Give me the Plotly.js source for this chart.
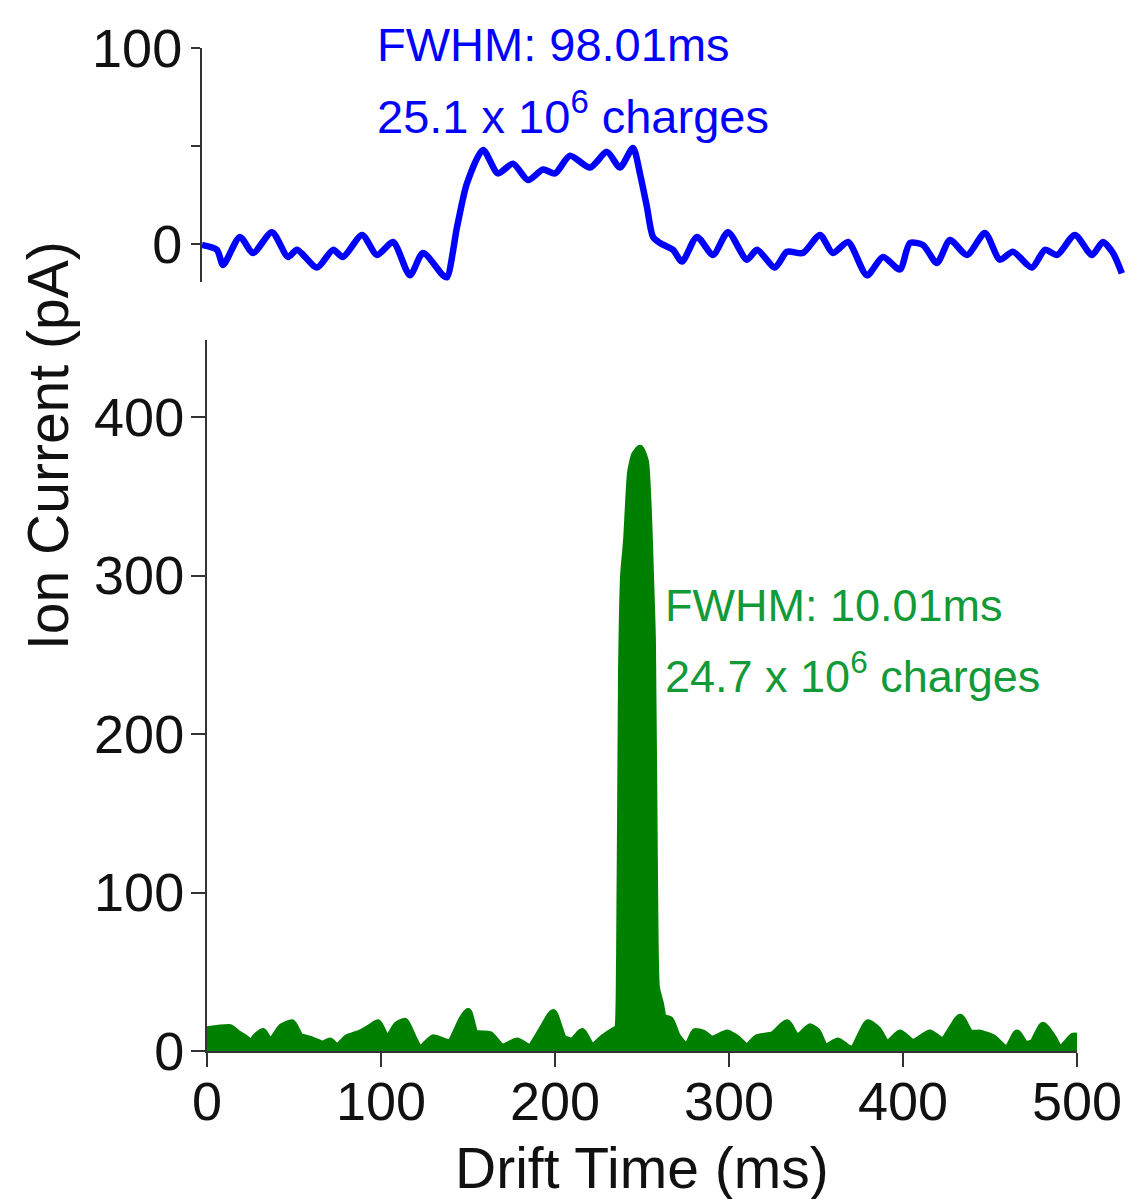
<!DOCTYPE html>
<html>
<head>
<meta charset="utf-8">
<script src="https://cdn.plot.ly/plotly-3.0.1.min.js"></script>
<style>html,body{margin:0;padding:0;background:#fff;}#chart{width:1132px;height:1199px;}</style>
</head>
<body>
<div id="chart"></div>
<script>
// Upper trace (blue): drift time (ms) and ion current (pA)
const blueTime = [0, 8.6, 12.1, 21.8, 29.3, 40.2, 49.4, 54.6, 66.1, 75.3, 81, 92, 100.6, 109.8, 119.5, 127, 138.5, 140.8,
  146.6, 152.3, 161.5, 170.1, 178.7, 187.4, 196, 202.9, 211.5, 223, 232.8, 240.2, 247.7, 251.7, 255.7, 259.2, 263.2,
  270.7, 275.9, 284.5, 293.7, 302.3, 313.2, 319, 329.3, 336.2, 345.4, 355.2, 362.6, 371.3, 382.2, 391.4, 401.1,
  406.9, 414.4, 422.4, 429.9, 439.7, 450, 458.6, 466.1, 477, 484.5, 491.4, 501.7, 511.5, 517.8, 523.6, 528.7];
const blueCurrent = [-0.5, -3, -10.7, 3.6, -4.6, 6, -6.6, -3, -12, -3, -6.6, 4.6, -5.6, 1, -16, -4.6, -16, -17,
  8.7, 31, 48, 36, 41, 32.6, 38, 36, 45, 39, 47, 39, 49, 36, 19, 3.6, 0.5,
  -3, -9, 3.6, -5.6, 6, -8, -3, -12, -4, -4.6, 4.6, -4.6, 1, -16, -6.6, -13,
  0.5, -0.5, -9.7, 2, -5.6, 5.6, -8, -4, -12, -3, -5.6, 4.6, -5.6, 1, -4.6, -15];

// Lower trace (green): drift time (ms) and ion current (pA)
const greenTime = [0, 13.2, 17.2, 23, 24.7, 27.6, 32.2, 36.2, 43.1, 48.9, 53.4, 59.2, 66.7, 70.7, 74.7, 80.5, 88, 93.7,
  98.3, 103.4, 109.2, 113.8, 118.4, 122.4, 129.9, 139.7, 146.6, 150, 154, 162.6, 169.5, 178.2, 185.6, 192.5, 198.9,
  204.6, 210.3, 215.5, 221.3, 227.6, 234.5, 236.2, 237.4, 238.5, 239.7, 241.4, 243.7, 246, 248.9, 251.7, 253.4, 254.6,
  255.7, 256.9, 258, 260.3, 262.1, 266.1, 270.1, 275.9, 280.5, 285.1, 290.2, 298.9, 305.2, 310.3, 316.1, 325.3, 333.3,
  339.1, 346.6, 350.6, 355.2, 362.6, 367.8, 371.3, 379.9, 385.6, 390.8, 398.3, 405.7, 415.5, 423, 432.8, 438.5,
  444.3, 451.7, 459.8, 465.5, 470.1, 474.7, 480.5, 486.2, 490.2, 497.7, 500];
const greenCurrent = [13, 14.5, 11, 7, 0.5, 8, 12, 5, 15, 17.5, 9, 7, 4, 6, 2, 8, 11, 14.5,
  17.5, 7, 16, 18.5, 8, 0.5, 8, 5, 19.5, 24.6, 11, 10, 2, 6, 2, 13, 24,
  8, 6, 12, 2, 8, 13, 14, 60, 238, 300, 322, 365, 376, 380, 372, 340, 300,
  260, 110, 40, 30, 21, 19.5, 9, 2, 12, 11, 7, 11, 7, 2, 8, 10, 17.5,
  8, 15, 12, 2, 6, 2, 0.5, 17.5, 13, 4, 11, 5, 11, 6, 21, 11,
  11, 8, 0.5, 11, 4, 5, 16, 8, 0.5, 9, 9];

const xTicks = [0, 100, 200, 300, 400, 500];
const yTicksLower = [0, 100, 200, 300, 400];
const yTicksUpper = [0, 50, 100];
const yTickTextUpper = ['0', ' ', '100'];

const W = 1132, H = 1199;
const px = v => v / W;
const py = v => 1 - v / H;

const FONT = 'Liberation Sans, Arial, Helvetica, sans-serif';
const AX = '#333333';

const traces = [
  {x: blueTime, y: blueCurrent, xaxis: 'x2', yaxis: 'y2', type: 'scatter', mode: 'lines',
   line: {color: '#0000ff', width: 6.5, shape: 'spline', smoothing: 0.7}, hoverinfo: 'skip'},
  {x: greenTime, y: greenCurrent, xaxis: 'x', yaxis: 'y', type: 'scatter', mode: 'lines',
   fill: 'tozeroy', fillcolor: '#008000',
   line: {color: '#008000', width: 8, shape: 'spline', smoothing: 0.5}, hoverinfo: 'skip'}
];

const layout = {
  width: W, height: H,
  margin: {l: 0, r: 0, t: 0, b: 0},
  paper_bgcolor: '#ffffff', plot_bgcolor: 'rgba(0,0,0,0)',
  showlegend: false,
  font: {family: FONT, color: '#111111'},
  xaxis: {domain: [px(207), px(1077)], range: [0, 500], anchor: 'y',
    showline: true, linecolor: AX, linewidth: 2, ticks: 'outside', ticklen: 14, tickwidth: 2, tickcolor: AX,
    ticklabelstandoff: -12,
    tickvals: xTicks, tickfont: {size: 54, family: FONT, color: '#111'}, showgrid: false, zeroline: false, fixedrange: true},
  yaxis: {domain: [py(1051), py(340)], range: [0, 448.6], anchor: 'x',
    showline: true, linecolor: AX, linewidth: 2, ticks: 'outside', ticklen: 14, tickwidth: 2, tickcolor: AX,
    ticklabelstandoff: -4,
    tickvals: yTicksLower, tickfont: {size: 54, family: FONT, color: '#111'}, showgrid: false, zeroline: false, fixedrange: true},
  xaxis2: {domain: [px(202), px(1125)], range: [0, 530.5], anchor: 'y2', visible: false, fixedrange: true},
  yaxis2: {domain: [py(282), py(48)], range: [-19.4, 100], anchor: 'x2',
    showline: true, linecolor: AX, linewidth: 2, ticks: 'outside', ticklen: 9, tickwidth: 2, tickcolor: AX,
    ticklabelstandoff: -2,
    tickvals: yTicksUpper, ticktext: yTickTextUpper, tickfont: {size: 54, family: FONT, color: '#111'},
    showgrid: false, zeroline: false, fixedrange: true},
  annotations: [
    {xref: 'paper', yref: 'paper', x: px(375), y: py(45), xanchor: 'left', yanchor: 'middle', showarrow: false,
     text: 'FWHM: 98.01ms', font: {family: FONT, size: 47, color: '#0000ff'}},
    {xref: 'paper', yref: 'paper', x: px(375), y: py(113), xanchor: 'left', yanchor: 'middle', showarrow: false,
     text: '25.1 x 10<sup>6</sup> charges', font: {family: FONT, size: 47, color: '#0000ff'}},
    {xref: 'paper', yref: 'paper', x: px(663), y: py(605), xanchor: 'left', yanchor: 'middle', showarrow: false,
     text: 'FWHM: 10.01ms', font: {family: FONT, size: 45, color: '#129a38'}},
    {xref: 'paper', yref: 'paper', x: px(663), y: py(673), xanchor: 'left', yanchor: 'middle', showarrow: false,
     text: '24.7 x 10<sup>6</sup> charges', font: {family: FONT, size: 45, color: '#129a38'}},
    {xref: 'paper', yref: 'paper', x: px(642), y: py(1168), xanchor: 'center', yanchor: 'middle', showarrow: false,
     text: 'Drift Time (ms)', font: {family: FONT, size: 57, color: '#111'}},
    {xref: 'paper', yref: 'paper', x: px(48), y: py(446), xanchor: 'center', yanchor: 'middle', showarrow: false,
     textangle: -90, text: 'Ion Current (pA)', font: {family: FONT, size: 57, color: '#111'}}
  ]
};

Plotly.newPlot('chart', traces, layout, {staticPlot: true, displayModeBar: false});
</script>
</body>
</html>
